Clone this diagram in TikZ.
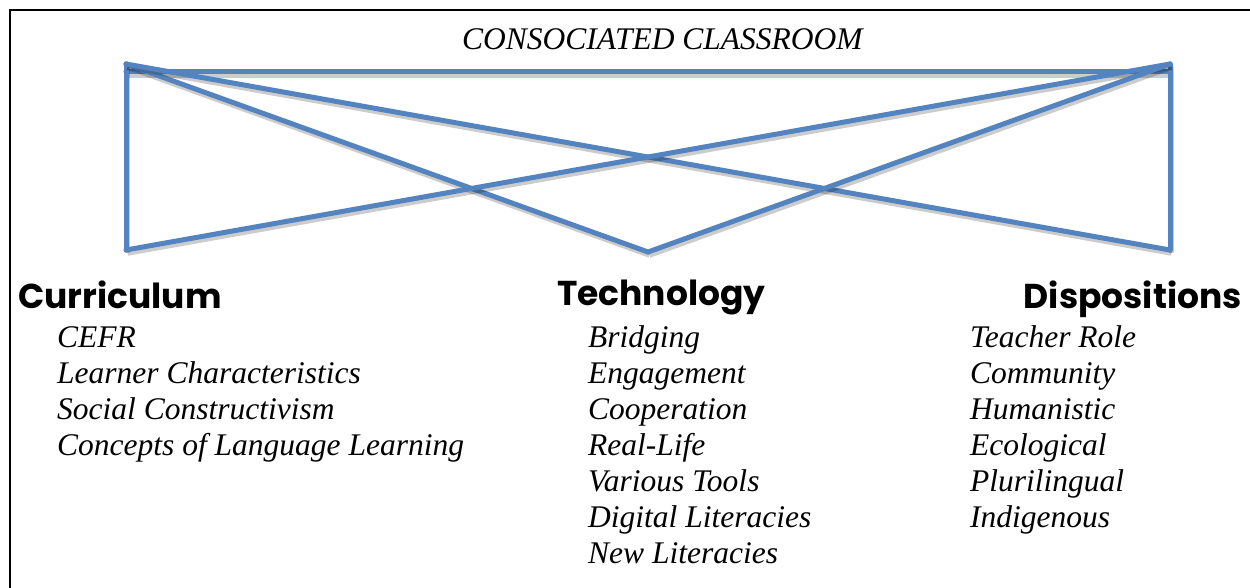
\documentclass[tikz,border=0pt]{standalone}
\usepackage{fontspec}
\setmainfont{Liberation Serif}
\newfontfamily\headfont{Poppins}
\definecolor{linkblue}{RGB}{84,132,192}
\begin{document}
\begin{tikzpicture}[x=1pt,y=-1pt,
  link/.style={draw=linkblue, line width=5pt, line join=round, line cap=round,
    preaction={draw=black, opacity=0.2, line width=5.5pt,
      transform canvas={shift={(1.5pt,-3pt)}}}},
  frameline/.style={draw=black, line width=2pt},
  title/.style={anchor=base west, inner sep=0pt, font=\fontsize{31.5}{36}\selectfont\itshape},
  item/.style={anchor=base west, inner sep=0pt, font=\fontsize{31.5}{36}\selectfont\itshape},
  heading/.style={inner sep=0pt, font=\headfont\bfseries\fontsize{34.5}{40}\selectfont}]
\useasboundingbox (0,0) rectangle (1250,588);
\fill[white] (0,0) rectangle (1250,588);

% open frame: only the top and left edges are inside the page
\coordinate (fa) at (9.5,588);
\coordinate (fb) at (9.5,10.5);
\coordinate (fc) at (1250,10.5);
\draw[frameline] (fa) -- (fb) -- (fc);

% corners of the linking figure
\coordinate (TL) at (126,64);
\coordinate (TR) at (1170,64);
\coordinate (TLh) at (126,72);
\coordinate (TRh) at (1170,72);
\coordinate (BL) at (126,250);
\coordinate (BM) at (648,252);
\coordinate (BR) at (1170,250);

\draw[link] (TLh) -- (TRh);
\draw[link] (BL) -- (TL);
\draw[link] (BR) -- (TR);
\draw[link] (TL) -- (BM);
\draw[link] (TL) -- (BR);
\draw[link] (TR) -- (BL);
\draw[link] (TR) -- (BM);

\node[title] (title) at (462,50) {CONSOCIATED CLASSROOM};

% column headings
\node[heading, anchor=base west] (curr) at (18,308) {Curriculum};
\node[heading, anchor=base west] (tech) at (557,305) {Technology};
\node[heading, anchor=base east] (disp) at (1242,308) {Dispositions};

% column items
\foreach \t [count=\i from 0] in {CEFR, Learner Characteristics, Social Constructivism,
  Concepts of Language Learning}
  \node[item] (c\i) at (57,347+36*\i) {\t};
\foreach \t [count=\i from 0] in {Bridging, Engagement, Cooperation, Real-Life,
  Various Tools, Digital Literacies, New Literacies}
  \node[item] (t\i) at (588,347+36*\i) {\t};
\foreach \t [count=\i from 0] in {Teacher Role, Community, Humanistic, Ecological,
  Plurilingual, Indigenous}
  \node[item] (d\i) at (970,347+36*\i) {\t};
\end{tikzpicture}
\end{document}
